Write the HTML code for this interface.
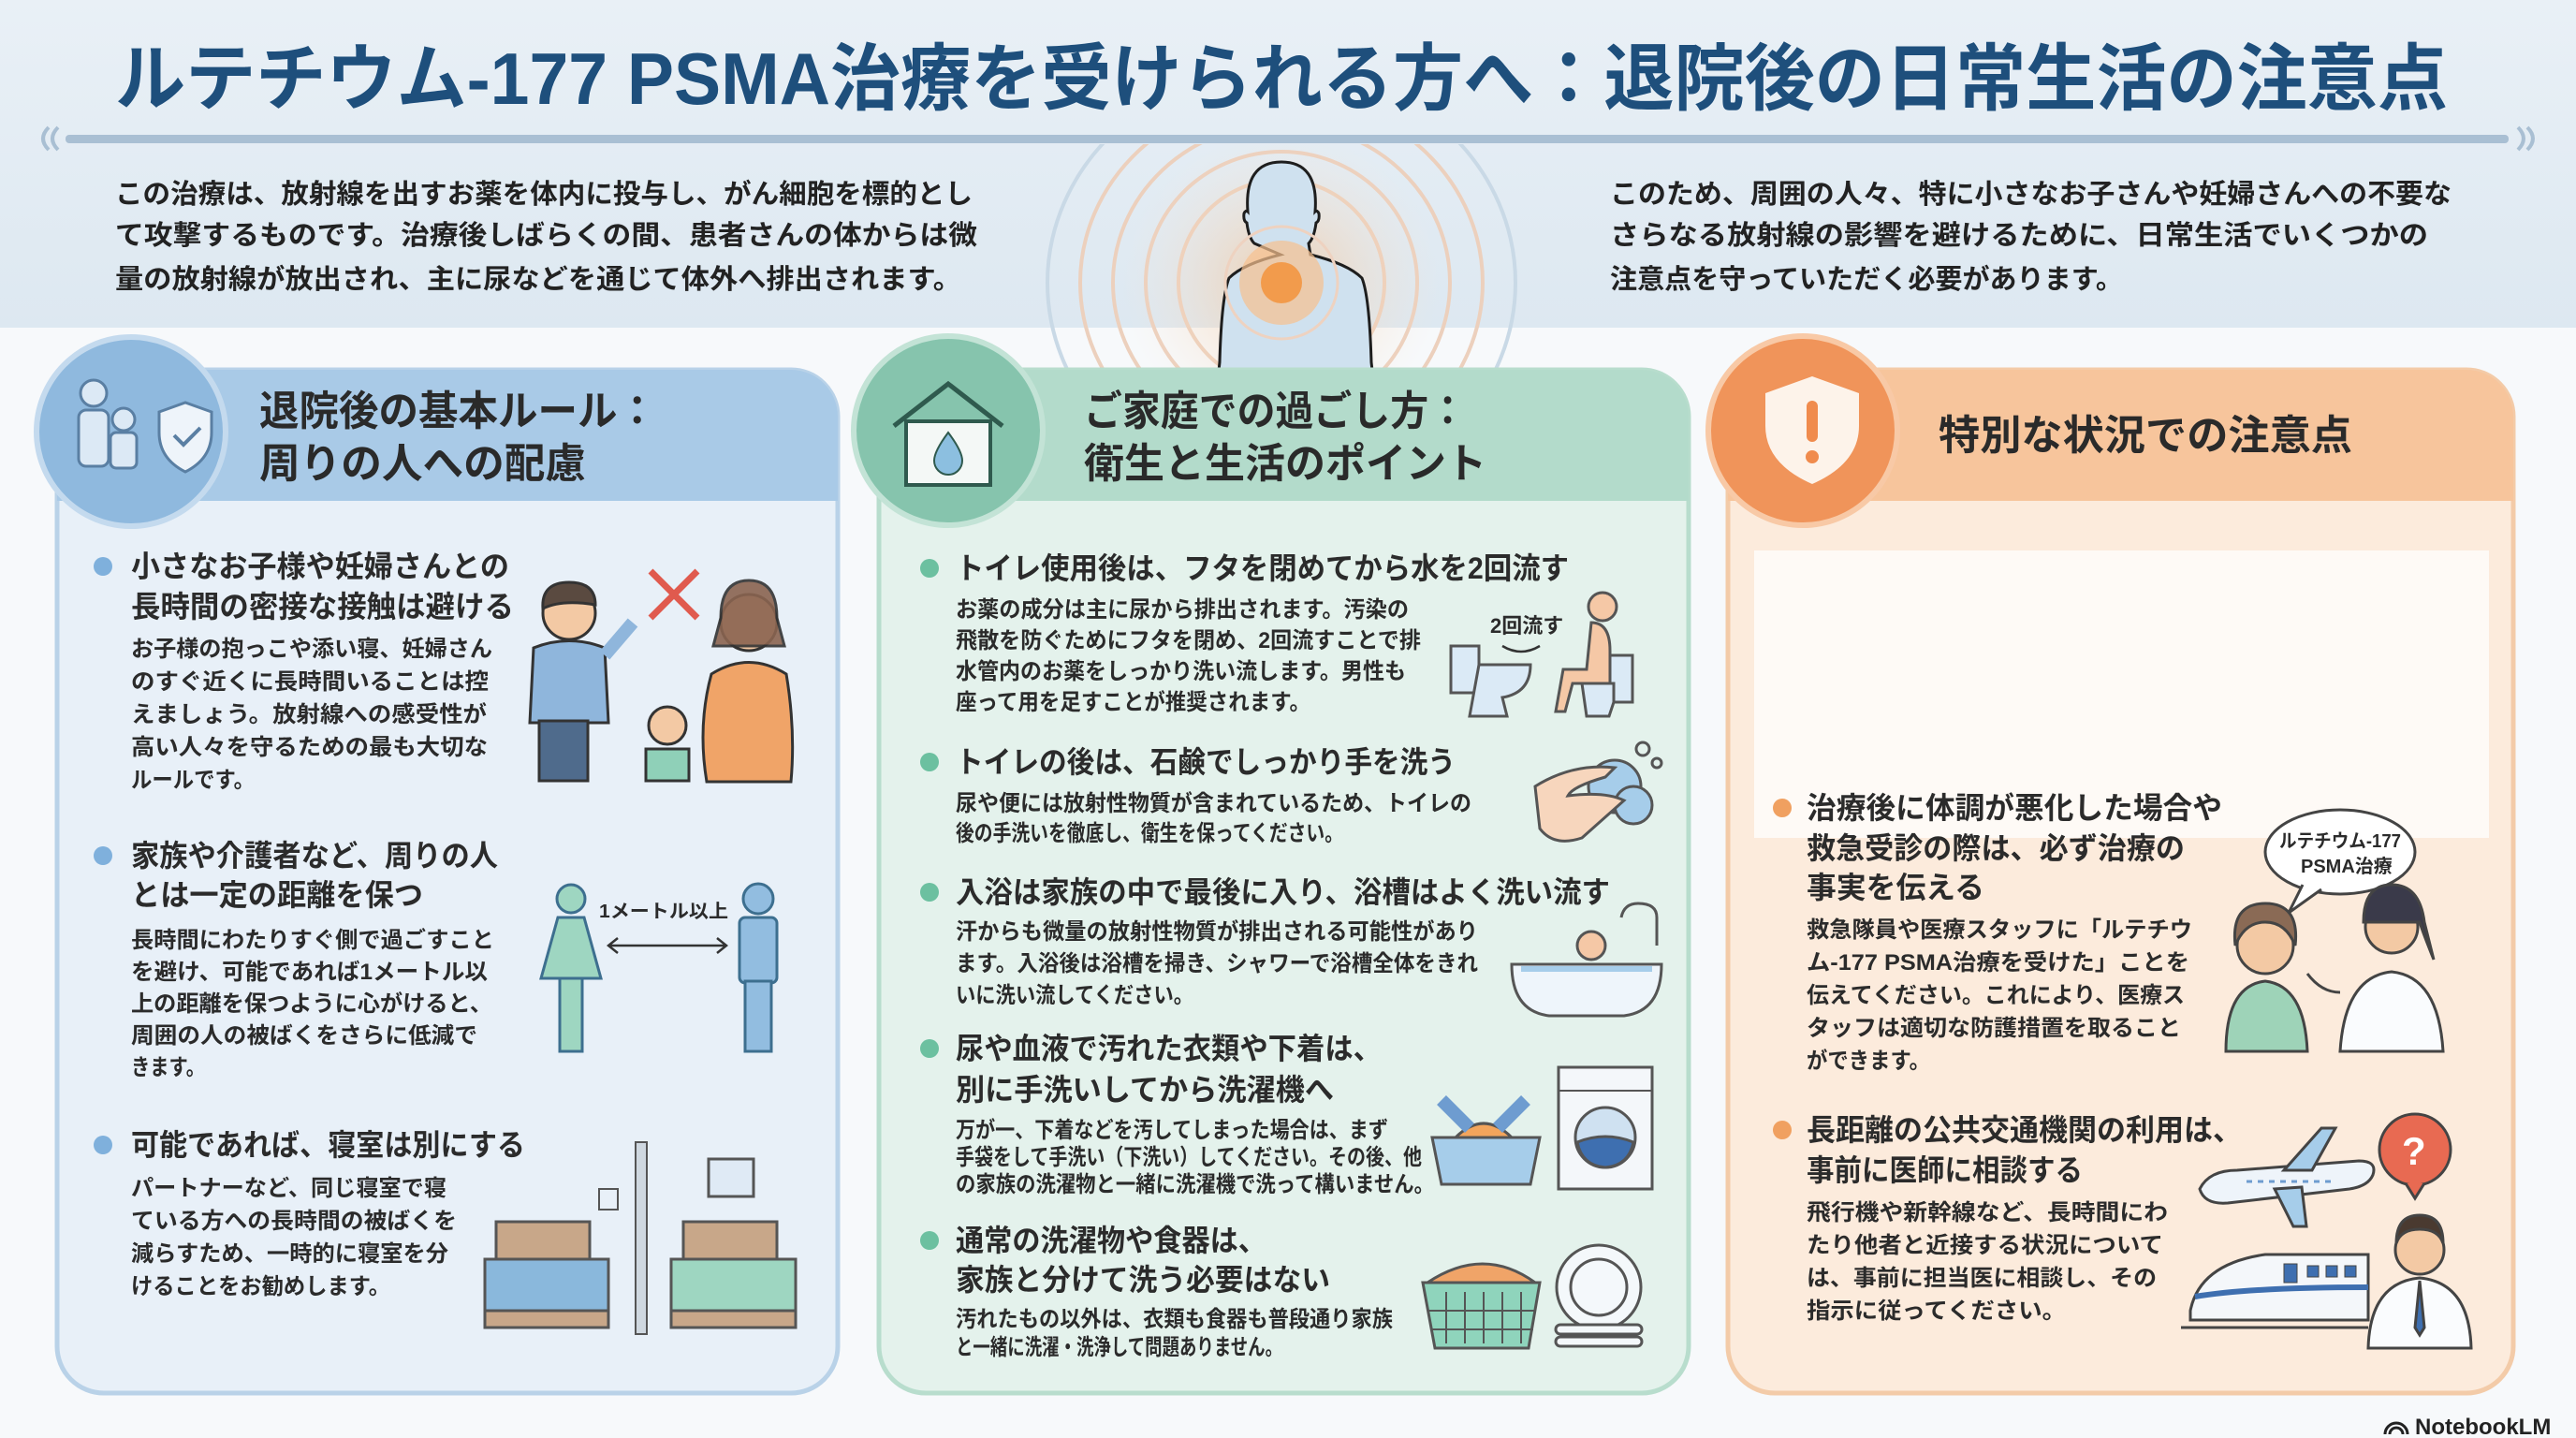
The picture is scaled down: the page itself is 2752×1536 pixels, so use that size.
<!DOCTYPE html>
<html><head><meta charset="utf-8"><style>
html,body{margin:0;padding:0;background:#f7f9fb;}
svg{display:block}
text{font-family:"Liberation Sans","Noto Sans CJK JP",sans-serif;font-weight:700;fill:#2b2b2b}
.b{font-size:24px}
.h{font-size:32px}
.hd{font-size:44px;fill:#2a2a2a}
.in{font-size:29px;fill:#222}
</style></head><body>
<svg width="2752" height="1536" viewBox="0 0 2752 1536" xmlns="http://www.w3.org/2000/svg">
<defs>
<linearGradient id="hb" x1="0" y1="0" x2="0" y2="1"><stop offset="0" stop-color="#e9f0f6"/><stop offset="1" stop-color="#dde8f1"/></linearGradient>
<radialGradient id="glow" cx="0.5" cy="0.5" r="0.5"><stop offset="0" stop-color="#f4a35c"/><stop offset="0.25" stop-color="#f7c79a" stop-opacity="0.8"/><stop offset="1" stop-color="#f9e3cf" stop-opacity="0"/></radialGradient>
<clipPath id="rc"><rect x="1000" y="154" width="740" height="245"/></clipPath>
</defs>
<rect width="2752" height="1536" fill="#f7f9fb"/>
<rect width="2752" height="350" fill="url(#hb)"/>
<!-- radiation rings -->
<g clip-path="url(#rc)">
<g fill="none" stroke-width="4">
<ellipse cx="1369" cy="302" rx="250" ry="230" stroke="#c9d9e6"/>
<ellipse cx="1369" cy="302" rx="215" ry="200" stroke="#ecd0bd"/>
<ellipse cx="1369" cy="302" rx="180" ry="170" stroke="#ecd0bd"/>
<ellipse cx="1369" cy="302" rx="145" ry="140" stroke="#ecd0bd"/>
<ellipse cx="1369" cy="302" rx="110" ry="110" stroke="#ecd0bd"/>
</g>
<ellipse cx="1369" cy="302" rx="170" ry="160" fill="url(#glow)" opacity="0.6"/>
</g>
<!-- title -->
<text x="123" y="111" font-size="78" style="fill:#1e4f7c" textLength="2492" lengthAdjust="spacingAndGlyphs">ルテチウム-177 PSMA治療を受けられる方へ：退院後の日常生活の注意点</text>
<rect x="70" y="144" width="2610" height="9" rx="4" fill="#a9bfd3"/>
<path d="M62 136 q-12 12 0 24 M52 136 q-12 12 0 24 M2690 136 q12 12 0 24 M2700 136 q12 12 0 24" stroke="#a9bfd3" stroke-width="4" fill="none"/>
<path d="M1340 260 q-6 -6 -8 -22 q-4 -2 -3 -10 q2 -4 4 -2 q-4 -53 36 -53 q40 0 36 53 q2 -2 4 2 q1 8 -3 10 q-2 16 -8 22 l2 12 q40 10 55 25 q8 20 10 90 l4 35 l-170 0 l4 -35 q2 -70 10 -90 q15 -15 55 -25 z" fill="#cfe1ef" stroke="#1e1e1e" stroke-width="3"/>
<circle cx="1369" cy="302" r="45" fill="#f6c08f" opacity="0.7"/>
<circle cx="1369" cy="302" r="22" fill="#f29b4c"/>
<circle cx="1369" cy="302" r="60" fill="none" stroke="#eed2c0" stroke-width="3"/>
<!-- intro -->
<text class="in" x="123" y="217" textLength="916" lengthAdjust="spacingAndGlyphs">この治療は、放射線を出すお薬を体内に投与し、がん細胞を標的とし</text>
<text class="in" x="123" y="261" textLength="921" lengthAdjust="spacingAndGlyphs">て攻撃するものです。治療後しばらくの間、患者さんの体からは微</text>
<text class="in" x="123" y="308" textLength="904" lengthAdjust="spacingAndGlyphs">量の放射線が放出され、主に尿などを通じて体外へ排出されます。</text>
<text class="in" x="1720" y="217" textLength="899" lengthAdjust="spacingAndGlyphs">このため、周囲の人々、特に小さなお子さんや妊婦さんへの不要な</text>
<text class="in" x="1720" y="261" textLength="874" lengthAdjust="spacingAndGlyphs">さらなる放射線の影響を避けるために、日常生活でいくつかの</text>
<text class="in" x="1720" y="308" textLength="548" lengthAdjust="spacingAndGlyphs">注意点を守っていただく必要があります。</text>

<!-- LEFT PANEL -->
<rect x="61" y="395" width="834" height="1093" rx="50" fill="#e8f0f8" stroke="#b9d2e8" stroke-width="5"/>
<path d="M111 395 h734 a50 50 0 0 1 50 50 v90 h-834 v-90 a50 50 0 0 1 50 -50z" fill="#a9cae7"/>
<circle cx="140" cy="461" r="101" fill="#8fb9de" stroke="#c4daee" stroke-width="6"/>
<g fill="#dce9f5" stroke="#5a7fa3" stroke-width="3">
<circle cx="100" cy="420" r="14"/><rect x="84" y="438" width="32" height="60" rx="8"/>
<circle cx="132" cy="448" r="12"/><rect x="118" y="462" width="28" height="38" rx="6"/>
<path d="M170 440 l28 -10 l28 10 v22 q0 28 -28 42 q-28 -14 -28 -42z" fill="#eef4fa"/>
</g>
<path d="M186 465 l10 10 l18 -18" stroke="#5a7fa3" stroke-width="4" fill="none"/>
<text class="hd" x="277" y="454" textLength="425" lengthAdjust="spacingAndGlyphs">退院後の基本ルール：</text>
<text class="hd" x="277" y="510" textLength="349" lengthAdjust="spacingAndGlyphs">周りの人への配慮</text>
<g fill="#7fb0dc"><circle cx="110" cy="605" r="10"/><circle cx="110" cy="914" r="10"/><circle cx="110" cy="1223" r="10"/></g>
<text class="h" x="140" y="616" textLength="404" lengthAdjust="spacingAndGlyphs">小さなお子様や妊婦さんとの</text>
<text class="h" x="140" y="659" textLength="409" lengthAdjust="spacingAndGlyphs">長時間の密接な接触は避ける</text>
<text class="b" x="140" y="701" textLength="386" lengthAdjust="spacingAndGlyphs">お子様の抱っこや添い寝、妊婦さん</text>
<text class="b" x="140" y="736" textLength="382" lengthAdjust="spacingAndGlyphs">のすぐ近くに長時間いることは控</text>
<text class="b" x="140" y="771" textLength="380" lengthAdjust="spacingAndGlyphs">えましょう。放射線への感受性が</text>
<text class="b" x="140" y="806" textLength="381" lengthAdjust="spacingAndGlyphs">高い人々を守るための最も大切な</text>
<text class="b" x="140" y="841" textLength="132" lengthAdjust="spacingAndGlyphs">ルールです。</text>
<text class="h" x="140" y="925" textLength="392" lengthAdjust="spacingAndGlyphs">家族や介護者など、周りの人</text>
<text class="h" x="140" y="967" textLength="312" lengthAdjust="spacingAndGlyphs">とは一定の距離を保つ</text>
<text class="b" x="140" y="1012" textLength="388" lengthAdjust="spacingAndGlyphs">長時間にわたりすぐ側で過ごすこと</text>
<text class="b" x="140" y="1046" textLength="381" lengthAdjust="spacingAndGlyphs">を避け、可能であれば1メートル以</text>
<text class="b" x="140" y="1080" textLength="386" lengthAdjust="spacingAndGlyphs">上の距離を保つように心がけると、</text>
<text class="b" x="140" y="1114" textLength="370" lengthAdjust="spacingAndGlyphs">周囲の人の被ばくをさらに低減で</text>
<text class="b" x="140" y="1148" textLength="79" lengthAdjust="spacingAndGlyphs">きます。</text>
<text class="h" x="140" y="1234" textLength="421" lengthAdjust="spacingAndGlyphs">可能であれば、寝室は別にする</text>
<text class="b" x="140" y="1277" textLength="337" lengthAdjust="spacingAndGlyphs">パートナーなど、同じ寝室で寝</text>
<text class="b" x="140" y="1312" textLength="348" lengthAdjust="spacingAndGlyphs">ている方への長時間の被ばくを</text>
<text class="b" x="140" y="1347" textLength="339" lengthAdjust="spacingAndGlyphs">減らすため、一時的に寝室を分</text>
<text class="b" x="140" y="1382" textLength="277" lengthAdjust="spacingAndGlyphs">けることをお勧めします。</text>
<!-- left illus: family -->
<g stroke="#333" stroke-width="3">
<circle cx="608" cy="655" r="28" fill="#f3c9a4"/>
<path d="M608 622 q-30 0 -28 28 q20 -10 56 -4 q0 -24 -28 -24z" fill="#5a4a40"/>
<path d="M570 692 q38 -15 76 0 l4 80 h-84z" fill="#8fb6dc"/>
<path d="M646 700 l30 -35" stroke-width="14" stroke="#8fb6dc"/>
<rect x="576" y="770" width="52" height="64" fill="#4f6b8c"/>
<circle cx="800" cy="665" r="30" fill="#f3c9a4"/>
<path d="M770 660 q0 -40 30 -40 q30 0 30 40 l8 30 h-76z" fill="#8a6450" opacity="0.9"/>
<path d="M760 720 q40 -25 80 0 q10 60 5 115 h-90 q-10 -60 5 -115z" fill="#f0a468"/>
<circle cx="713" cy="775" r="20" fill="#f3c9a4"/>
<path d="M690 800 h46 v34 h-46z" fill="#8fd0b8"/>
</g>
<path d="M695 610 l50 50 M745 610 l-50 50" stroke="#e05a4e" stroke-width="7"/>
<!-- distance -->
<g stroke="#3d6f8f" stroke-width="3">
<circle cx="610" cy="960" r="15" fill="#9ed6c1"/>
<path d="M596 980 h28 l18 65 h-64z" fill="#9ed6c1"/>
<rect x="598" y="1045" width="24" height="78" fill="#9ed6c1"/>
<circle cx="810" cy="960" r="16" fill="#92bde0"/>
<rect x="790" y="980" width="40" height="70" rx="6" fill="#92bde0"/>
<rect x="796" y="1048" width="28" height="75" fill="#92bde0"/>
</g>
<text x="640" y="980" font-size="20" textLength="138" lengthAdjust="spacingAndGlyphs">1メートル以上</text>
<path d="M650 1010 h126 M660 1002 l-10 8 l10 8 M766 1002 l10 8 l-10 8" stroke="#333" stroke-width="2.5" fill="none"/>
<!-- beds -->
<rect x="679" y="1220" width="12" height="205" fill="#cfd8e0" stroke="#555" stroke-width="2"/>
<rect x="640" y="1270" width="20" height="22" fill="none" stroke="#555" stroke-width="2"/>
<rect x="757" y="1238" width="48" height="40" fill="#dfeaf5" stroke="#555" stroke-width="3"/>
<g stroke="#555" stroke-width="3">
<rect x="530" y="1305" width="100" height="50" fill="#c8a789"/>
<rect x="518" y="1345" width="132" height="60" fill="#8ab8dc"/>
<rect x="518" y="1400" width="132" height="18" fill="#c8a789"/>
<rect x="730" y="1305" width="100" height="50" fill="#c8a789"/>
<rect x="717" y="1345" width="133" height="60" fill="#9ed6c1"/>
<rect x="717" y="1400" width="133" height="18" fill="#c8a789"/>
</g>

<!-- MIDDLE PANEL -->
<rect x="939" y="395" width="865" height="1093" rx="50" fill="#e4f2ec" stroke="#b8ddcd" stroke-width="5"/>
<path d="M989 395 h765 a50 50 0 0 1 50 50 v90 h-865 v-90 a50 50 0 0 1 50 -50z" fill="#b3dbcb"/>
<circle cx="1013" cy="460" r="101" fill="#86c4ad" stroke="#c3e3d6" stroke-width="6"/>
<path d="M955 455 l58 -45 l58 45" fill="none" stroke="#2f5a4e" stroke-width="5"/>
<rect x="968" y="450" width="90" height="68" fill="#f4f8f6" stroke="#2f5a4e" stroke-width="4"/>
<path d="M1013 462 q-15 20 -15 30 a15 15 0 0 0 30 0 q0 -10 -15 -30z" fill="#8cbfe0" stroke="#2f5a4e" stroke-width="2"/>
<text class="hd" x="1158" y="454" textLength="409" lengthAdjust="spacingAndGlyphs">ご家庭での過ごし方：</text>
<text class="hd" x="1158" y="510" textLength="430" lengthAdjust="spacingAndGlyphs">衛生と生活のポイント</text>
<g fill="#6cc0a0"><circle cx="993" cy="607" r="10"/><circle cx="993" cy="814" r="10"/><circle cx="993" cy="953" r="10"/><circle cx="993" cy="1120" r="10"/><circle cx="993" cy="1325" r="10"/></g>
<text class="h" x="1021" y="618" textLength="655" lengthAdjust="spacingAndGlyphs">トイレ使用後は、フタを閉めてから水を2回流す</text>
<text class="b" x="1021" y="659" textLength="484" lengthAdjust="spacingAndGlyphs">お薬の成分は主に尿から排出されます。汚染の</text>
<text class="b" x="1021" y="692" textLength="497" lengthAdjust="spacingAndGlyphs">飛散を防ぐためにフタを閉め、2回流すことで排</text>
<text class="b" x="1021" y="725" textLength="481" lengthAdjust="spacingAndGlyphs">水管内のお薬をしっかり洗い流します。男性も</text>
<text class="b" x="1021" y="758" textLength="379" lengthAdjust="spacingAndGlyphs">座って用を足すことが推奨されます。</text>
<text class="h" x="1021" y="825" textLength="534" lengthAdjust="spacingAndGlyphs">トイレの後は、石鹸でしっかり手を洗う</text>
<text class="b" x="1021" y="866" textLength="551" lengthAdjust="spacingAndGlyphs">尿や便には放射性物質が含まれているため、トイレの</text>
<text class="b" x="1021" y="898" textLength="414" lengthAdjust="spacingAndGlyphs">後の手洗いを徹底し、衛生を保ってください。</text>
<text class="h" x="1021" y="964" textLength="699" lengthAdjust="spacingAndGlyphs">入浴は家族の中で最後に入り、浴槽はよく洗い流す</text>
<text class="b" x="1021" y="1003" textLength="558" lengthAdjust="spacingAndGlyphs">汗からも微量の放射性物質が排出される可能性があり</text>
<text class="b" x="1021" y="1037" textLength="558" lengthAdjust="spacingAndGlyphs">ます。入浴後は浴槽を掃き、シャワーで浴槽全体をきれ</text>
<text class="b" x="1021" y="1071" textLength="254" lengthAdjust="spacingAndGlyphs">いに洗い流してください。</text>
<text class="h" x="1021" y="1131" textLength="455" lengthAdjust="spacingAndGlyphs">尿や血液で汚れた衣類や下着は、</text>
<text class="h" x="1021" y="1175" textLength="404" lengthAdjust="spacingAndGlyphs">別に手洗いしてから洗濯機へ</text>
<text class="b" x="1021" y="1215" textLength="462" lengthAdjust="spacingAndGlyphs">万が一、下着などを汚してしまった場合は、まず</text>
<text class="b" x="1021" y="1244" textLength="498" lengthAdjust="spacingAndGlyphs">手袋をして手洗い（下洗い）してください。その後、他</text>
<text class="b" x="1021" y="1273" textLength="511" lengthAdjust="spacingAndGlyphs">の家族の洗濯物と一緒に洗濯機で洗って構いません。</text>
<text class="h" x="1021" y="1336" textLength="332" lengthAdjust="spacingAndGlyphs">通常の洗濯物や食器は、</text>
<text class="h" x="1021" y="1378" textLength="400" lengthAdjust="spacingAndGlyphs">家族と分けて洗う必要はない</text>
<text class="b" x="1021" y="1417" textLength="467" lengthAdjust="spacingAndGlyphs">汚れたもの以外は、衣類も食器も普段通り家族</text>
<text class="b" x="1021" y="1447" textLength="349" lengthAdjust="spacingAndGlyphs">と一緒に洗濯・洗浄して問題ありません。</text>
<!-- middle illus -->
<g stroke="#555" stroke-width="3">
<rect x="1550" y="690" width="30" height="50" fill="#dbeaf6"/>
<path d="M1580 710 h55 q0 30 -30 35 l5 20 h-40z" fill="#dbeaf6"/>
<rect x="1720" y="700" width="24" height="50" fill="#dbeaf6"/>
<path d="M1690 730 h34 v20 l-5 15 h-24z" fill="#dbeaf6"/>
<circle cx="1712" cy="648" r="15" fill="#f5c8a6"/>
<path d="M1700 665 q20 0 20 30 v35 h-40 l-8 30 h-10 l8 -45 h25z" fill="#f5c8a6"/>
</g>
<text x="1592" y="676" font-size="22">2回流す</text>
<path d="M1605 690 q20 12 40 0" stroke="#333" stroke-width="2.5" fill="none"/>
<g stroke="#555" stroke-width="3">
<circle cx="1725" cy="840" r="28" fill="#a6cdea"/>
<circle cx="1745" cy="860" r="20" fill="#a6cdea"/>
<path d="M1640 840 q40 -25 85 -20 l-10 10 q-35 10 -40 20 q40 -5 60 5 l-45 40 q-30 10 -45 -10z" fill="#f7d6bd"/>
<circle cx="1755" cy="800" r="7" fill="none"/><circle cx="1770" cy="815" r="5" fill="none"/>
</g>
<g stroke="#555" stroke-width="3">
<path d="M1770 1010 v-30 q0 -15 -20 -15 q-15 0 -18 15" fill="none"/>
<circle cx="1700" cy="1010" r="15" fill="#f5c8a6"/>
<path d="M1615 1030 h160 q0 50 -40 55 h-80 q-40 -5 -40 -55z" fill="#eef5fb"/>
<path d="M1625 1035 h140" stroke="#a6cdea" stroke-width="6"/>
</g>
<g stroke="#555" stroke-width="3">
<path d="M1530 1215 h115 l-10 50 h-95z" fill="#a6cdea"/>
<path d="M1555 1215 q30 -30 60 0z" fill="#f3a55c"/>
<path d="M1540 1175 l30 30 M1630 1175 l-30 30" stroke="#6e9cd0" stroke-width="14"/>
<rect x="1665" y="1140" width="100" height="130" fill="#f4f7fa"/>
<circle cx="1715" cy="1215" r="32" fill="#cfe1f1"/>
<path d="M1685 1220 q30 -12 60 0 q-5 25 -30 27 q-25 -2 -30 -27z" fill="#3e6fb0"/>
<path d="M1665 1165 h100" stroke-width="2"/>
</g>
<g stroke="#555" stroke-width="3">
<path d="M1525 1370 q60 -40 115 0z" fill="#f0a468"/>
<path d="M1520 1370 h125 l-12 70 h-100z" fill="#8fd4bc"/>
<path d="M1545 1380 v55 M1565 1380 v55 M1585 1380 v55 M1605 1380 v55 M1625 1380 v55 M1525 1400 h115 M1528 1420 h110" stroke-width="2"/>
<ellipse cx="1708" cy="1375" rx="45" ry="45" fill="#f4f8fb"/>
<ellipse cx="1708" cy="1375" rx="30" ry="30" fill="none"/>
<rect x="1662" y="1415" width="92" height="10" rx="5" fill="#f4f8fb"/>
<rect x="1662" y="1428" width="92" height="10" rx="5" fill="#f4f8fb"/>
</g>

<!-- RIGHT PANEL -->
<rect x="1846" y="395" width="839" height="1093" rx="50" fill="#fcebdc" stroke="#f3cba8" stroke-width="5"/>
<path d="M1896 395 h739 a50 50 0 0 1 50 50 v90 h-839 v-90 a50 50 0 0 1 50 -50z" fill="#f7c59c"/>
<circle cx="1926" cy="460" r="101" fill="#f0945a" stroke="#f8c9a6" stroke-width="6"/>
<path d="M1886 420 l50 -18 l50 18 v35 q0 40 -50 62 q-50 -22 -50 -62z" fill="#fdf3ea"/>
<rect x="1930" y="428" width="12" height="44" rx="6" fill="#f08b4d"/>
<circle cx="1936" cy="488" r="7" fill="#f08b4d"/>
<text class="hd" x="2071" y="480" textLength="442" lengthAdjust="spacingAndGlyphs">特別な状況での注意点</text>
<rect x="1874" y="588" width="785" height="307" fill="#fefaf6"/>
<g fill="#f0a060"><circle cx="1904" cy="863" r="10"/><circle cx="1904" cy="1207" r="10"/></g>
<text class="h" x="1930" y="874" textLength="444" lengthAdjust="spacingAndGlyphs">治療後に体調が悪化した場合や</text>
<text class="h" x="1930" y="917" textLength="404" lengthAdjust="spacingAndGlyphs">救急受診の際は、必ず治療の</text>
<text class="h" x="1930" y="959" textLength="190" lengthAdjust="spacingAndGlyphs">事実を伝える</text>
<text class="b" x="1930" y="1001" textLength="412" lengthAdjust="spacingAndGlyphs">救急隊員や医療スタッフに「ルテチウ</text>
<text class="b" x="1930" y="1036" textLength="409" lengthAdjust="spacingAndGlyphs">ム-177 PSMA治療を受けた」ことを</text>
<text class="b" x="1930" y="1071" textLength="404" lengthAdjust="spacingAndGlyphs">伝えてください。これにより、医療ス</text>
<text class="b" x="1930" y="1106" textLength="400" lengthAdjust="spacingAndGlyphs">タッフは適切な防護措置を取ること</text>
<text class="b" x="1930" y="1141" textLength="132" lengthAdjust="spacingAndGlyphs">ができます。</text>
<text class="h" x="1930" y="1218" textLength="465" lengthAdjust="spacingAndGlyphs">長距離の公共交通機関の利用は、</text>
<text class="h" x="1930" y="1261" textLength="295" lengthAdjust="spacingAndGlyphs">事前に医師に相談する</text>
<text class="b" x="1930" y="1303" textLength="386" lengthAdjust="spacingAndGlyphs">飛行機や新幹線など、長時間にわ</text>
<text class="b" x="1930" y="1338" textLength="381" lengthAdjust="spacingAndGlyphs">たり他者と近接する状況について</text>
<text class="b" x="1930" y="1373" textLength="374" lengthAdjust="spacingAndGlyphs">は、事前に担当医に相談し、その</text>
<text class="b" x="1930" y="1408" textLength="277" lengthAdjust="spacingAndGlyphs">指示に従ってください。</text>
<!-- right illus -->
<ellipse cx="2500" cy="910" rx="80" ry="45" fill="#fff" stroke="#444" stroke-width="3"/>
<path d="M2460 945 l-15 30 l35 -25" fill="#fff" stroke="#444" stroke-width="3"/>
<text x="2435" y="905" font-size="20" textLength="130" lengthAdjust="spacingAndGlyphs">ルテチウム-177</text>
<text x="2458" y="932" font-size="20">PSMA治療</text>
<g stroke="#444" stroke-width="3">
<circle cx="2420" cy="1010" r="30" fill="#f3c9a4"/>
<path d="M2388 1010 q-5 -45 32 -45 q37 0 32 45 q-10 -25 -32 -25 q-22 0 -32 25z" fill="#8a6a55"/>
<path d="M2378 1123 q0 -70 42 -75 q42 5 45 75z" fill="#9ed3b8"/>
<circle cx="2555" cy="990" r="28" fill="#f3c9a4"/>
<path d="M2525 985 q0 -40 30 -40 q30 0 35 40 l10 40 q-12 -30 -15 -40 q-20 0 -60 0z" fill="#3a3a4a"/>
<path d="M2500 1123 q5 -80 55 -85 q50 5 55 85z" fill="#fafcfe"/>
<path d="M2500 1060 q-20 0 -35 -20" fill="none"/>
</g>
<g stroke="#444" stroke-width="3">
<path d="M2350 1270 q10 -20 40 -20 l130 -10 q20 0 15 15 q-5 12 -25 15 l-130 15 q-25 2 -30 -15z" fill="#eef4fa"/>
<path d="M2440 1250 l40 -45 h15 l-25 45z" fill="#a6cdea"/>
<path d="M2430 1270 l20 40 h14 l-5 -42z" fill="#a6cdea"/>
<path d="M2400 1262 h90" stroke="#6e9cd0" stroke-dasharray="6 6"/>
<circle cx="2580" cy="1228" r="38" fill="#e86a52"/>
<path d="M2570 1264 l10 16 l10 -16" fill="#e86a52"/>
</g>
<text x="2566" y="1244" font-size="42" style="fill:#fff">?</text>
<g stroke="#444" stroke-width="3">
<path d="M2340 1400 q10 -50 80 -60 h110 v70 h-190z" fill="#f4f7fa"/>
<path d="M2345 1385 q60 -10 185 -10" stroke="#3e6fb0" stroke-width="6" fill="none"/>
<rect x="2440" y="1350" width="14" height="20" fill="#3e6fb0" stroke-width="1"/>
<rect x="2465" y="1352" width="12" height="12" fill="#3e6fb0" stroke-width="1"/>
<rect x="2485" y="1352" width="12" height="12" fill="#3e6fb0" stroke-width="1"/>
<rect x="2505" y="1352" width="12" height="12" fill="#3e6fb0" stroke-width="1"/>
<path d="M2330 1418 h200"/>
<circle cx="2585" cy="1335" r="26" fill="#f3c9a4"/>
<path d="M2560 1328 q0 -30 25 -30 q25 0 25 30 q-5 -15 -25 -15 q-20 0 -25 15z" fill="#4a3a30"/>
<path d="M2530 1440 q2 -70 55 -75 q53 5 55 75z" fill="#fafcfe"/>
<path d="M2585 1368 l-5 50 l5 8 l5 -8z" fill="#3e6fb0"/>
</g>
<!-- logo -->
<path d="M2548 1532 a12 12 0 0 1 24 0 M2553 1532 a7 7 0 0 1 14 0" stroke="#222" stroke-width="3" fill="none"/>
<text x="2580" y="1532" font-size="24" style="fill:#222">NotebookLM</text>
</svg>
</body></html>
